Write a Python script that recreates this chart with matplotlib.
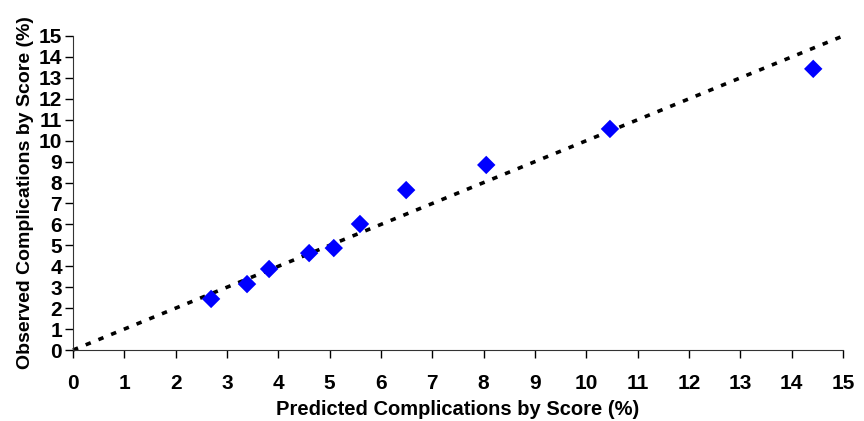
import matplotlib
matplotlib.use("Agg")
import matplotlib.pyplot as plt

predicted = [2.69, 3.39, 3.82, 4.60, 5.08, 5.59, 6.49, 8.05, 10.46, 14.42]
observed = [2.44, 3.15, 3.87, 4.63, 4.87, 6.02, 7.64, 8.84, 10.56, 13.43]
ref_line = [0, 15]
ticks = list(range(0, 16))

plt.rcParams["font.family"] = ["Liberation Sans Narrow", "Liberation Sans", "DejaVu Sans"]
plt.rcParams["font.weight"] = "bold"

fig = plt.figure(figsize=(8.64, 4.21), dpi=100)
ax = fig.add_axes([0.0845, 0.1686, 0.8912, 0.7459])

ax.plot(ref_line, ref_line, color="black", linestyle=(0, (1.5, 2.3)), linewidth=2.6,
        clip_on=False, zorder=2)
ax.scatter(predicted, observed, marker="D", s=88, color="#0000ff", edgecolors="none",
           zorder=3)

ax.set_xlim(0, 15)
ax.set_ylim(0, 15)
ax.set_xticks(ticks)
ax.set_yticks(ticks)
ax.tick_params(labelsize=15, length=6, width=1, direction="out", pad=11)
ax.tick_params(axis="y", pad=2)
for s in ["top", "right"]:
    ax.spines[s].set_visible(False)
for s in ["left", "bottom"]:
    ax.spines[s].set_color("#333333")

ax.set_xlabel("Predicted Complications by Score (%)", fontsize=14.5, fontweight="bold", labelpad=5)
ax.set_ylabel("Observed Complications by Score (%)", fontsize=14, fontweight="bold", labelpad=3)

fig.savefig("out.png", dpi=100)
